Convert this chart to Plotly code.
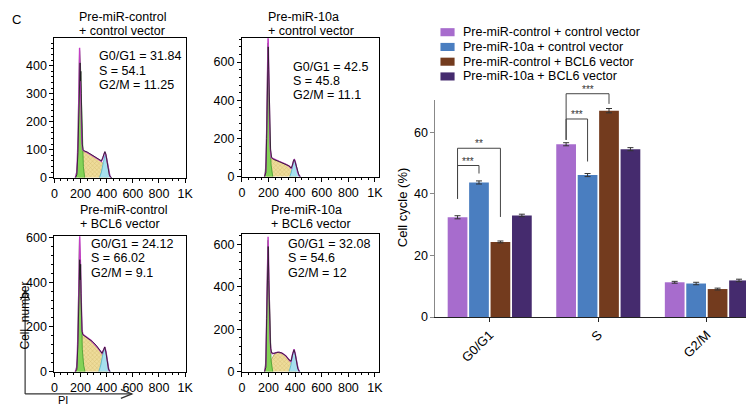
import plotly.graph_objects as go

# the page draws the figure inside the 8px body margin, so map picture pixels onto that area
OX, OY, PW, PH = 8, 8, 738, 389
FONT = 'Arial, Liberation Sans, sans-serif'


def fx(px):
    return (px - OX) / PW


def fy(py):
    return 1 - (py - OY) / PH


# ---------------- flow cytometry histograms ----------------
title_line1 = ['Pre-miR-control', 'Pre-miR-10a', 'Pre-miR-control', 'Pre-miR-10a']
title_line2 = ['+ control vector', '+ control vector', '+ BCL6 vector', '+ BCL6 vector']
g0g1_txt = ['31.84', '42.5', '24.12', '32.08']
s_txt = ['54.1', '45.8', '66.02', '54.6']
g2m_txt = ['11.25', '11.1', '9.1', '12']
pi_ticks = [0, 200, 400, 600, 800, 1000]
pi_labels = ['0', '200', '400', '600', '800', '1K']

# panel 1
p1_g1_x = [165, 178, 186, 193, 200, 207, 214, 222, 232]
p1_g1_y = [0, 60, 300, 455, 400, 250, 120, 40, 0]
p1_s_x = [190, 205, 215, 250, 290, 330, 360, 380, 395, 405]
p1_s_y = [0, 80, 95, 90, 80, 68, 58, 45, 20, 0]
p1_g2_x = [345, 360, 375, 388, 400, 412, 425, 435]
p1_g2_y = [0, 20, 55, 82, 70, 35, 8, 0]
p1_fit_x = [160, 172, 182, 188, 193, 198, 204, 210, 216, 225, 250, 290, 330, 350, 360, 372, 380, 387, 395, 405, 415, 425, 435]
p1_fit_y = [0, 20, 150, 350, 464, 380, 220, 130, 100, 96, 90, 80, 68, 62, 58, 70, 85, 92, 80, 50, 20, 5, 0]
p1_raw_x = [160, 172, 180, 186, 190, 194, 197, 200, 203, 206, 210, 214, 220, 230, 250, 270, 290, 310, 330, 350, 360, 370, 380, 387, 394, 402, 410, 420, 430, 440]
p1_raw_y = [0, 10, 90, 250, 330, 390, 410, 345, 380, 300, 200, 120, 100, 95, 92, 86, 82, 75, 70, 63, 60, 72, 86, 93, 84, 60, 30, 10, 2, 0]

# panel 2
p2_g1_x = [172, 182, 190, 196, 202, 210, 220, 232]
p2_g1_y = [0, 80, 450, 700, 500, 200, 60, 0]
p2_s_x = [192, 205, 220, 250, 290, 330, 360, 380, 395, 408]
p2_s_y = [0, 75, 95, 88, 78, 66, 55, 42, 20, 0]
p2_g2_x = [360, 372, 385, 393, 402, 415, 428, 440]
p2_g2_y = [0, 25, 70, 88, 75, 35, 8, 0]
p2_fit_x = [170, 180, 188, 193, 197, 201, 206, 212, 220, 240, 280, 320, 355, 372, 380, 388, 393, 400, 410, 420, 432, 440]
p2_fit_y = [0, 30, 300, 650, 760, 600, 350, 160, 100, 92, 80, 68, 55, 42, 60, 85, 92, 82, 50, 20, 4, 0]
p2_raw_x = [170, 180, 186, 190, 194, 198, 202, 206, 210, 216, 224, 240, 270, 300, 330, 355, 370, 380, 388, 394, 400, 410, 420, 430, 440]
p2_raw_y = [0, 20, 200, 420, 600, 680, 560, 400, 250, 140, 100, 90, 82, 74, 66, 56, 45, 60, 86, 90, 78, 48, 20, 5, 0]

# panel 3
p3_g1_x = [165, 176, 185, 192, 198, 206, 214, 224, 234]
p3_g1_y = [0, 60, 350, 590, 480, 250, 100, 30, 0]
p3_s_x = [195, 208, 218, 250, 290, 330, 360, 378, 392, 402]
p3_s_y = [0, 140, 165, 150, 130, 105, 85, 65, 30, 0]
p3_g2_x = [340, 355, 370, 385, 396, 408, 418, 428]
p3_g2_y = [0, 30, 75, 105, 85, 40, 10, 0]
p3_fit_x = [160, 172, 182, 188, 194, 199, 205, 211, 218, 240, 280, 320, 350, 365, 375, 386, 395, 405, 415, 425]
p3_fit_y = [0, 20, 200, 450, 612, 500, 300, 190, 167, 158, 140, 115, 92, 82, 95, 111, 90, 45, 10, 0]
p3_raw_x = [160, 172, 180, 186, 190, 194, 198, 201, 204, 208, 212, 218, 230, 260, 290, 320, 345, 365, 378, 386, 394, 404, 414, 425]
p3_raw_y = [0, 10, 120, 330, 470, 500, 410, 480, 350, 220, 180, 165, 160, 150, 135, 118, 98, 82, 100, 110, 88, 45, 12, 0]

# panel 4
p4_g1_x = [172, 182, 190, 196, 202, 210, 220, 232]
p4_g1_y = [0, 70, 420, 620, 470, 200, 50, 0]
p4_s_x = [205, 220, 240, 265, 290, 320, 350, 370, 390, 405]
p4_s_y = [0, 55, 78, 90, 88, 78, 62, 45, 20, 0]
p4_g2_x = [355, 368, 380, 392, 402, 414, 426, 438]
p4_g2_y = [0, 30, 75, 100, 80, 35, 8, 0]
p4_fit_x = [170, 180, 188, 193, 197, 201, 206, 212, 220, 232, 250, 270, 300, 330, 355, 368, 380, 392, 400, 410, 420, 432]
p4_fit_y = [0, 30, 330, 560, 636, 520, 300, 150, 90, 85, 88, 92, 88, 75, 55, 46, 80, 106, 88, 50, 18, 0]
p4_raw_x = [170, 180, 186, 190, 194, 198, 202, 206, 210, 216, 225, 240, 260, 280, 300, 330, 355, 370, 382, 392, 400, 410, 420, 432]
p4_raw_y = [0, 20, 250, 420, 560, 590, 430, 300, 180, 110, 88, 86, 90, 92, 88, 75, 55, 50, 85, 103, 86, 48, 15, 0]

# ---------------- bar chart ----------------
phases = ['G0/G1', 'S', 'G2/M']
group_names = ['Pre-miR-control + control vector', 'Pre-miR-10a + control vector',
               'Pre-miR-control + BCL6 vector', 'Pre-miR-10a + BCL6 vector']
ctrl_ctrl = [32.4, 56.1, 11.3]
mir_ctrl = [43.7, 46.1, 10.9]
ctrl_bcl6 = [24.4, 67.0, 9.1]
mir_bcl6 = [33.0, 54.5, 11.9]
ctrl_ctrl_err = [0.5, 0.5, 0.3]
mir_ctrl_err = [0.5, 0.5, 0.4]
ctrl_bcl6_err = [0.3, 0.7, 0.3]
mir_bcl6_err = [0.4, 0.5, 0.4]
bar_colors = ['#a76ccd', '#4a7ec0', '#733b1e', '#452b6e']

fig = go.Figure()

hist = [
    (p1_g1_x, p1_g1_y, p1_s_x, p1_s_y, p1_g2_x, p1_g2_y, p1_fit_x, p1_fit_y, p1_raw_x, p1_raw_y),
    (p2_g1_x, p2_g1_y, p2_s_x, p2_s_y, p2_g2_x, p2_g2_y, p2_fit_x, p2_fit_y, p2_raw_x, p2_raw_y),
    (p3_g1_x, p3_g1_y, p3_s_x, p3_s_y, p3_g2_x, p3_g2_y, p3_fit_x, p3_fit_y, p3_raw_x, p3_raw_y),
    (p4_g1_x, p4_g1_y, p4_s_x, p4_s_y, p4_g2_x, p4_g2_y, p4_fit_x, p4_fit_y, p4_raw_x, p4_raw_y),
]
# pixel boxes (left, right, top, bottom), y max, y major tick
boxes = [(51, 182, 33, 171, 498, 100), (237, 373, 33, 170, 725, 200),
         (51, 182, 229, 363, 605, 200), (237, 373, 227, 363, 648, 200)]
title_pos = [(74, 12), (262, 12), (75, 203), (265, 203)]
stats_pos = [(94, 51), (287, 61), (86, 237), (282, 237)]
TXT = 12.5   # label font size
LEAD = 14    # line step of the stacked labels

annotations = []
shapes = []

for i, (g1x, g1y, sx, sy, g2x, g2y, fitx, fity, rawx, rawy) in enumerate(hist):
    n = i + 1
    xa = 'x' if n == 1 else 'x%d' % n
    ya = 'y' if n == 1 else 'y%d' % n
    fig.add_trace(go.Scatter(x=sx, y=sy, xaxis=xa, yaxis=ya, mode='lines', fill='tozeroy',
                             line=dict(color='#a08a3c', width=0.6),
                             fillcolor='#e2cf86',
                             fillpattern=dict(shape='x', fgcolor='#b59a45', bgcolor='#eedc9a',
                                              size=3, solidity=0.25),
                             showlegend=False, hoverinfo='skip'))
    fig.add_trace(go.Scatter(x=g1x, y=g1y, xaxis=xa, yaxis=ya, mode='lines', fill='tozeroy',
                             line=dict(color='#3f9a2c', width=0.8), fillcolor='#84d257',
                             showlegend=False, hoverinfo='skip'))
    fig.add_trace(go.Scatter(x=g2x, y=g2y, xaxis=xa, yaxis=ya, mode='lines', fill='tozeroy',
                             line=dict(color='#4fb3cf', width=0.8), fillcolor='#a6e0ee',
                             showlegend=False, hoverinfo='skip'))
    fig.add_trace(go.Scatter(x=fitx, y=fity, xaxis=xa, yaxis=ya, mode='lines',
                             line=dict(color='#c23ec4', width=1.4),
                             showlegend=False, hoverinfo='skip'))
    fig.add_trace(go.Scatter(x=rawx, y=rawy, xaxis=xa, yaxis=ya, mode='lines',
                             line=dict(color='#1a1a1a', width=0.8),
                             showlegend=False, hoverinfo='skip'))

    l, r, t, b, ymax, ydt = boxes[i]
    axis_common = dict(showline=True, mirror=True, linecolor='black', linewidth=1,
                       ticks='outside', ticklen=4, tickwidth=1, tickcolor='black',
                       showgrid=False, zeroline=False,
                       tickfont=dict(family=FONT, size=12.5, color='black'))
    fig.update_layout(**{
        ('xaxis' if n == 1 else 'xaxis%d' % n): dict(
            domain=[fx(l), fx(r)], anchor=ya, range=[0, 1030 if n % 2 == 0 else 1010],
            tickvals=pi_ticks, ticktext=pi_labels,
            minor=dict(ticks='outside', ticklen=2, dtick=50, tickcolor='black'),
            **axis_common),
        ('yaxis' if n == 1 else 'yaxis%d' % n): dict(
            domain=[fy(b), fy(t)], anchor=xa, range=[0, ymax], dtick=ydt,
            minor=dict(ticks='outside', ticklen=2, dtick=ydt / 5, tickcolor='black'),
            **axis_common),
    })

    tx, ty = title_pos[i]
    for k, line in enumerate([title_line1[i], title_line2[i]]):
        annotations.append(dict(x=fx(tx), y=fy(ty + LEAD * k), xref='paper', yref='paper',
                                text=line, showarrow=False, xanchor='left', yanchor='middle',
                                borderpad=0,
                                font=dict(family=FONT, size=TXT, color='black')))
    sxp, syp = stats_pos[i]
    for k, line in enumerate(['G0/G1 = ' + g0g1_txt[i], 'S = ' + s_txt[i], 'G2/M = ' + g2m_txt[i]]):
        annotations.append(dict(x=fx(sxp), y=fy(syp + LEAD * k), xref='paper', yref='paper',
                                text=line, showarrow=False, xanchor='left', yanchor='middle',
                                borderpad=0,
                                font=dict(family=FONT, size=TXT, color='black')))

# bars
bar_vals = [ctrl_ctrl, mir_ctrl, ctrl_bcl6, mir_bcl6]
bar_errs = [ctrl_ctrl_err, mir_ctrl_err, ctrl_bcl6_err, mir_bcl6_err]
for name, vals, errs, col in zip(group_names, bar_vals, bar_errs, bar_colors):
    fig.add_trace(go.Bar(x=phases, y=vals, name=name, xaxis='x5', yaxis='y5',
                         marker=dict(color=col, line=dict(width=0)),
                         error_y=dict(type='data', array=errs, color='#333333',
                                      thickness=1, width=3),
                         showlegend=False))

BL, BR, BT, BB, BYMAX = 429, 746, 94, 309, 70.5
CAT_PX = 107.7
fig.update_layout(
    xaxis5=dict(domain=[fx(BL), fx(BR)], anchor='y5', range=[-0.5, -0.5 + (BR - BL) / CAT_PX],
                showline=True, linecolor='#222222',
                linewidth=1, ticks='outside', ticklen=4, tickcolor='#222222', tickangle=-45,
                showgrid=False, zeroline=False,
                tickfont=dict(family=FONT, size=13, color='black')),
    yaxis5=dict(domain=[fy(BB), fy(BT)], anchor='x5', range=[0, BYMAX], dtick=20,
                showline=True, linecolor='#888888', linewidth=1, ticks='outside', ticklen=4,
                tickcolor='#888888', showgrid=False, zeroline=False,
                tickfont=dict(family=FONT, size=12.5, color='black')),
    barmode='group', bargap=0.21, bargroupgap=0.08,
)


def by(v):
    return fy(BB) + v / BYMAX * (fy(BT) - fy(BB))


w = (1 - 0.21) / 4
pos = [-1.5 * w, -0.5 * w, 0.5 * w, 1.5 * w]
brackets = [
    (0 + pos[0], 38.4, 49.2, 0 + pos[1], 46.6, '***'),
    (0 + pos[0], 38.4, 54.8, 0 + pos[2], 32.5, '**'),
    (1 + pos[0], 57.5, 72.5, 1 + pos[2], 69.2, '***'),
    (1 + pos[0], 57.5, 64.3, 1 + pos[1], 50.5, '***'),
]
for x0, y0, ytop, x1, y1, lab in brackets:
    shapes.append(dict(type='path', xref='x5', yref='paper',
                       path='M %f,%f L %f,%f L %f,%f L %f,%f' % (x0, by(y0), x0, by(ytop), x1, by(ytop), x1, by(y1)),
                       line=dict(color='#444444', width=1)))
    annotations.append(dict(x=(x0 + x1) / 2, y=by(ytop), xref='x5', yref='paper', text=lab,
                            showarrow=False, yanchor='bottom', yshift=-3,
                            font=dict(family=FONT, size=10, color='#333333')))

annotations.append(dict(x=fx(397), y=fy(201), xref='paper', yref='paper', text='Cell cycle (%)',
                        textangle=-90, showarrow=False,
                        font=dict(family=FONT, size=13, color='black')))

# legend drawn by hand to keep the tight row spacing
for k, (name, col) in enumerate(zip(group_names, bar_colors)):
    cy = 27 + 14.6 * k
    shapes.append(dict(type='rect', xref='paper', yref='paper', x0=fx(434), x1=fx(448),
                       y0=fy(cy + 4), y1=fy(cy - 4), fillcolor=col, line=dict(width=0)))
    annotations.append(dict(x=fx(455), y=fy(cy), xref='paper', yref='paper', text=name,
                            showarrow=False, xanchor='left', yanchor='middle', borderpad=0,
                            font=dict(family=FONT, size=12.5, color='black')))

# panel letter and axis arrows
annotations.append(dict(x=fx(8), y=fy(14), xref='paper', yref='paper', text='C', showarrow=False,
                        xanchor='left', yanchor='middle', borderpad=0,
                        font=dict(family=FONT, size=13, color='black')))
annotations.append(dict(x=fx(14), y=fy(342), xref='paper', yref='paper', text='Cell  number',
                        textangle=-90, showarrow=False, borderpad=0,
                        font=dict(family=FONT, size=12, color='black')))
annotations.append(dict(x=fx(60), y=fy(397), xref='paper', yref='paper', text='PI', showarrow=False,
                        xanchor='center', yanchor='bottom', yshift=-1, borderpad=0,
                        font=dict(family=FONT, size=11, color='black')))
AX, AY = 22, 385
shapes.append(dict(type='line', xref='paper', yref='paper', x0=fx(AX), y0=fy(AY),
                   x1=fx(AX), y1=fy(283), line=dict(color='#333333', width=1.2)))
shapes.append(dict(type='line', xref='paper', yref='paper', x0=fx(AX), y0=fy(AY),
                   x1=fx(128), y1=fy(AY), line=dict(color='#333333', width=1.2)))
shapes.append(dict(type='path', xref='paper', yref='paper',
                   path='M %f,%f L %f,%f L %f,%f' % (fx(AX - 4.5), fy(292), fx(AX), fy(283), fx(AX + 4.5), fy(292)),
                   line=dict(color='#333333', width=1.2)))
shapes.append(dict(type='path', xref='paper', yref='paper',
                   path='M %f,%f L %f,%f L %f,%f' % (fx(117), fy(AY - 4.5), fx(128), fy(AY), fx(117), fy(AY + 4.5)),
                   line=dict(color='#333333', width=1.2)))

fig.update_layout(width=754, height=405, margin=dict(l=0, r=0, t=0, b=0),
                  plot_bgcolor='white', paper_bgcolor='white',
                  font=dict(family=FONT, size=13, color='black'),
                  annotations=annotations, shapes=shapes, showlegend=False)

fig.write_html("out.html")
